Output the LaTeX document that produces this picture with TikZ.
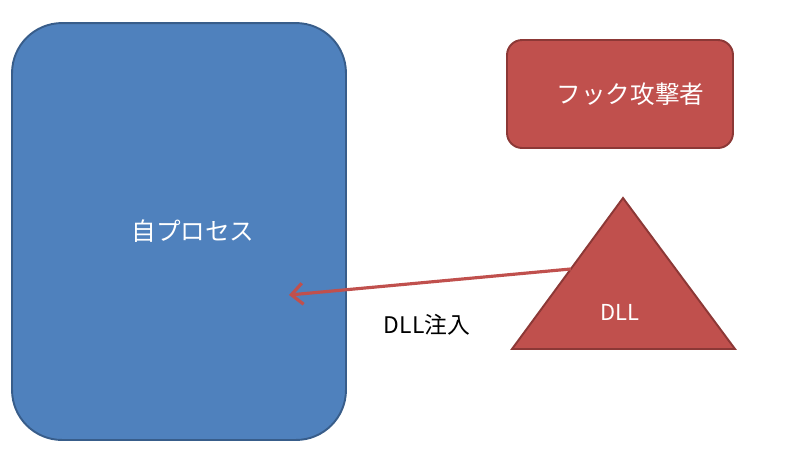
\documentclass[tikz,border=0pt]{standalone}
\usepackage{fontspec}
\usepackage{tikz}
\usetikzlibrary{positioning,arrows.meta,calc}
\usepackage{xcolor}
\newfontfamily\jpfont{Noto Sans CJK JP}
\definecolor{procblue}{RGB}{79,129,189}
\definecolor{procblue2}{RGB}{56,93,138}
\definecolor{hookred}{RGB}{192,80,77}
\definecolor{hookred2}{RGB}{140,56,54}
\tikzset{
  procbox/.style={draw=procblue2, line width=1.1pt, fill=procblue, rounded corners=1cm, minimum width=6.68cm, minimum height=8.34cm, text=white, font=\jpfont\fontsize{14}{16}\selectfont},
  hookbox/.style={draw=hookred2, line width=1.1pt, fill=hookred, rounded corners=0.3cm, minimum width=4.52cm, minimum height=2.16cm, text=white, font=\jpfont\fontsize{14}{16}\selectfont},
  dllshape/.style={draw=hookred2, line width=1.1pt, fill=hookred, line join=miter},
  injarrow/.style={-{Straight Barb[length=6.5pt,width=12pt,line width=1.8pt]}, line width=1.8pt, draw=hookred},
  lbl/.style={font=\jpfont\fontsize{13}{15}\selectfont}
}
\begin{document}
\begin{tikzpicture}[x=0.02cm, y=-0.02cm]
\useasboundingbox (0,0) rectangle (797,458);
\node[procbox] (proc) at (179,231.5) {\hspace{16pt}自プロセス};
\node[hookbox] (hook) at (620,94) {\hspace{12pt}フック攻撃者};
\coordinate (apex) at (623,198);
\coordinate (bl) at (512,349);
\coordinate (br) at (735,349);
\draw[dllshape] (apex) -- (bl) -- (br) -- cycle;
\node[font=\jpfont\fontsize{12.5}{14}\selectfont, text=white] (dll) at (620,312) {DLL};
\coordinate (inj) at ($(apex)!0.47!(bl)$);
\coordinate (tip) at (289,295);
\draw[injarrow] (inj) -- (tip);
\node[lbl] (injlbl) at (427,325) {DLL注入};
\end{tikzpicture}
\end{document}
